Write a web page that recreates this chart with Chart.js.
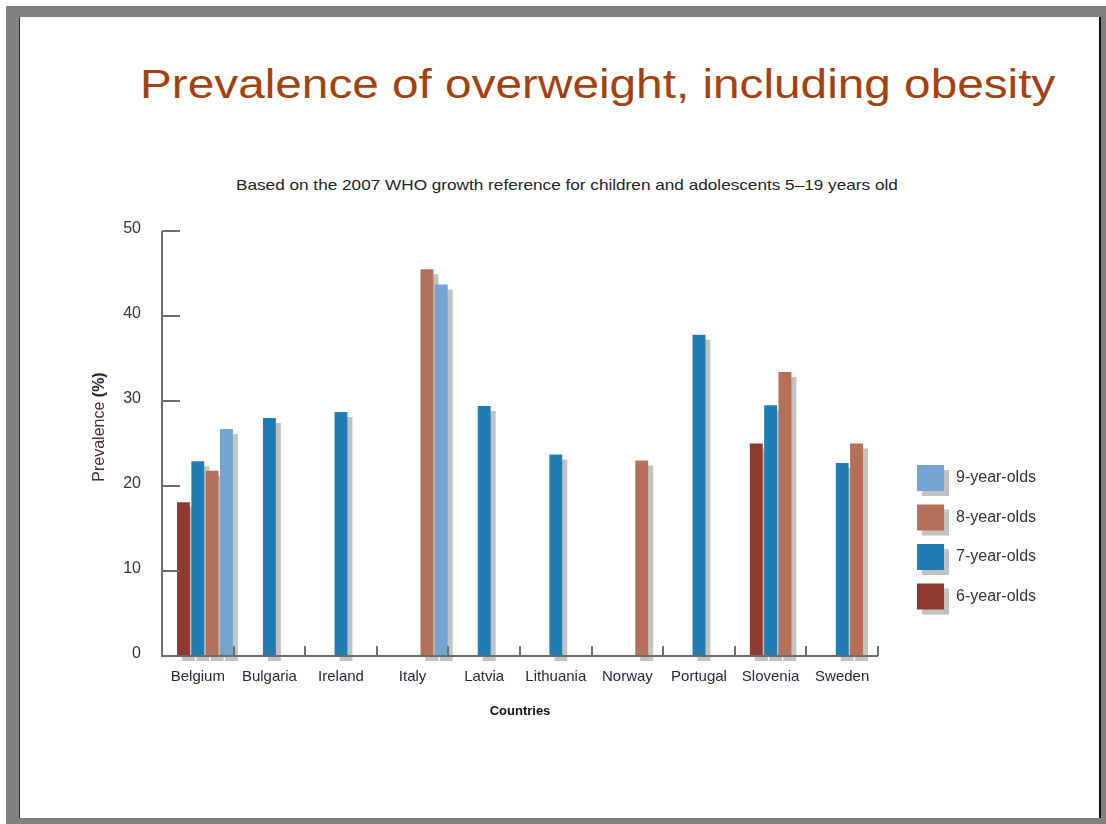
<!DOCTYPE html>
<html>
<head>
<meta charset="utf-8">
<script src="https://cdn.jsdelivr.net/npm/chart.js@4"></script>
<style>
  html, body { margin: 0; padding: 0; background: #fff; }
  body { width: 1106px; height: 824px; position: relative; overflow: hidden; }
  #frame { position: absolute; left: 6px; top: 6px; width: 1100px; height: 818px; background: #808080; }
  #slide { position: absolute; left: 19px; top: 17px; width: 1079px; height: 801px; background: #fff;
           border-left: 1px solid #2b2f3a; border-right: 2px solid #111; }
  .txt { position: absolute; white-space: nowrap; line-height: 1; transform-origin: 0 0;
         font-family: "Liberation Sans", Arial, sans-serif; }
  #title { left: 140px; top: 64px; font-size: 41px; color: #a3420e; }
  #subtitle { left: 236px; top: 177px; font-size: 15px; color: #222; }
  #chart { position: absolute; left: 0; top: 0; }
</style>
</head>
<body>
<div id="frame"></div>
<div id="slide"></div>
<div id="title" class="txt">Prevalence of overweight, including obesity</div>
<div id="subtitle" class="txt">Based on the 2007 WHO growth reference for children and adolescents 5–19 years old</div>
<canvas id="chart" width="1106" height="824"></canvas>
<script>
const categories = ['Belgium', 'Bulgaria', 'Ireland', 'Italy', 'Latvia', 'Lithuania', 'Norway', 'Portugal', 'Slovenia', 'Sweden'];
const age6 = [18.1, null, null, null, null, null, null, null, 25.0, null];
const age7 = [22.9, 28.0, 28.7, null, 29.4, 23.7, null, 37.8, 29.5, 22.7];
const age8 = [21.8, null, null, 45.5, null, null, 23.0, null, 33.4, 25.0];
const age9 = [26.7, null, null, 43.7, null, null, null, null, null, null];
const seriesNames = ['6-year-olds', '7-year-olds', '8-year-olds', '9-year-olds'];
const yTicks = [0, 10, 20, 30, 40, 50];

const palette = ['#8e3a2e', '#1f7db4', '#b5705a', '#74a4cf'];
const shadowColor = '#c2c2c2';

// stretch the slide texts to the width they have in the original
function fitText(id, width) {
  const el = document.getElementById(id);
  el.style.transform = 'scaleX(' + (width / el.offsetWidth) + ')';
}
fitText('title', 915);
fitText('subtitle', 662);

const seriesData = [age6, age7, age8, age9];
const datasets = [
  // empty slot so the groups sit right of the category centre, as in the original
  { label: '', data: [], spacer: true }
];
seriesData.forEach((d, i) => {
  datasets.push({
    label: seriesNames[i],
    data: d,
    backgroundColor: palette[i],
    borderWidth: 0
  });
});

const slideBits = {
  id: 'slideBits',
  beforeDatasetsDraw(chart) {
    const ctx = chart.ctx;
    ctx.save();
    ctx.fillStyle = shadowColor;
    chart.getSortedVisibleDatasetMetas().forEach(meta => {
      const src = chart.data.datasets[meta.index].data;
      meta.data.forEach((bar, i) => {
        if (src[i] == null) return;
        const p = bar.getProps(['x', 'y', 'base', 'width'], true);
        ctx.fillRect(p.x - p.width / 2 + 5, p.y + 5, p.width, p.base - p.y);
      });
    });
    ctx.restore();
  },
  afterDatasetsDraw(chart) {
    const ctx = chart.ctx;
    const {left, right, top, bottom} = chart.chartArea;
    const x = chart.scales.x, y = chart.scales.y;
    ctx.save();
    ctx.strokeStyle = '#6c6c6c';
    ctx.lineWidth = 2;
    ctx.beginPath();
    ctx.moveTo(left, top);
    ctx.lineTo(left, bottom);
    ctx.lineTo(right, bottom);
    y.ticks.forEach(t => {
      const py = Math.round(y.getPixelForValue(t.value));
      ctx.moveTo(left, py);
      ctx.lineTo(left + 18, py);
    });
    const step = x.getPixelForValue(1) - x.getPixelForValue(0);
    for (let i = 0; i < categories.length; i++) {
      const px = Math.round(x.getPixelForValue(i) + step / 2);
      ctx.moveTo(px, bottom);
      ctx.lineTo(px, bottom - 10);
    }
    ctx.stroke();
    ctx.restore();
  },
  afterDraw(chart) {
    const ctx = chart.ctx;
    const {right, top, left} = chart.chartArea;
    ctx.save();
    // y axis title, "(%)" in bold
    const normal = '16px "Liberation Sans", Arial, sans-serif';
    const bold = 'bold 16px "Liberation Sans", Arial, sans-serif';
    const a = 'Prevalence ', b = '(%)';
    ctx.font = normal;
    const wa = ctx.measureText(a).width;
    ctx.font = bold;
    const wb = ctx.measureText(b).width;
    ctx.translate(left - 58, top + 196);
    ctx.rotate(-Math.PI / 2);
    ctx.fillStyle = '#4a2a3c';
    ctx.textBaseline = 'alphabetic';
    ctx.textAlign = 'left';
    ctx.font = normal;
    ctx.fillText(a, -(wa + wb) / 2, 0);
    ctx.fillStyle = '#2a2030';
    ctx.font = bold;
    ctx.fillText(b, -(wa + wb) / 2 + wa, 0);
    ctx.restore();

    // legend, oldest group on top
    ctx.save();
    const items = chart.data.datasets.filter(d => !d.spacer).reverse();
    ctx.font = '16px "Liberation Sans", Arial, sans-serif';
    ctx.textBaseline = 'middle';
    items.forEach((d, i) => {
      const bx = right + 39, by = top + 234 + i * 39.5;
      ctx.fillStyle = shadowColor;
      ctx.fillRect(bx + 5, by + 5, 27, 26);
      ctx.fillStyle = d.backgroundColor;
      ctx.fillRect(bx, by, 27, 26);
      ctx.fillStyle = '#333';
      ctx.fillText(d.label, bx + 39, by + 13);
    });
    ctx.restore();
  }
};

const chart = new Chart(document.getElementById('chart'), {
  type: 'bar',
  data: { labels: categories, datasets: datasets },
  options: {
    responsive: false,
    animation: false,
    devicePixelRatio: 1,
    layout: { padding: { left: 80, right: 228, top: 231, bottom: 98 } },
    datasets: { bar: { categoryPercentage: 1.0, barPercentage: 0.9 } },
    scales: {
      x: {
        grid: { display: false, drawTicks: false },
        border: { display: false },
        ticks: {
          padding: 12,
          color: '#2c2540',
          font: { family: '"Liberation Sans", Arial, sans-serif', size: 15 }
        },
        title: {
          display: true,
          text: 'Countries',
          color: '#111',
          padding: { top: 0, bottom: 7 },
          font: { family: '"Liberation Sans", Arial, sans-serif', size: 13, weight: 'bold' }
        },
        afterFit(scale) { scale.height = 70; }
      },
      y: {
        min: yTicks[0],
        max: yTicks[yTicks.length - 1],
        afterBuildTicks(scale) { scale.ticks = yTicks.map(v => ({ value: v })); },
        grid: { display: false, drawTicks: false },
        border: { display: false },
        ticks: {
          padding: 21,
          labelOffset: -2,
          color: '#333',
          font: { family: '"Liberation Sans", Arial, sans-serif', size: 16 }
        },
        afterFit(scale) { scale.width = 82; }
      }
    },
    plugins: {
      legend: { display: false },
      tooltip: { enabled: false }
    }
  },
  plugins: [slideBits]
});
</script>
</body>
</html>
